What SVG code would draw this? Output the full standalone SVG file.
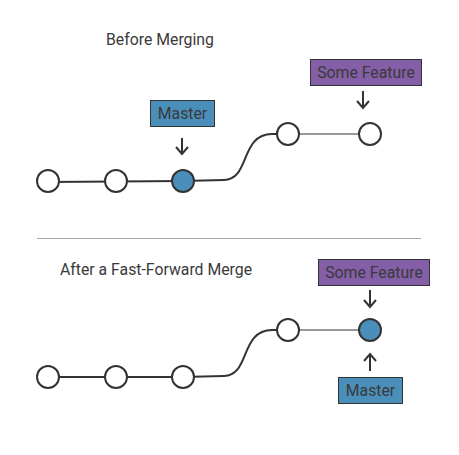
<svg xmlns="http://www.w3.org/2000/svg" width="459" height="455" viewBox="0 0 459 455">
<defs>
<style>
.title{font-family:Roboto,"Liberation Sans",sans-serif;font-size:15.8px;fill:#3a3a3a}
.lbl{font-family:Roboto,"Liberation Sans",sans-serif;font-size:15.8px;fill:#3a3a3a;text-anchor:middle}
.commit{fill:#fff;stroke:#333;stroke-width:2}
.head{fill:#4a8fba;stroke:#333;stroke-width:2}
.blue{fill:#4a8fba;stroke:#333;stroke-width:1}
.purple{fill:#845ea6;stroke:#333;stroke-width:1}
.edge{fill:none;stroke:#333;stroke-width:2}
.thin{fill:none;stroke:#333;stroke-width:1}
.arrow{fill:none;stroke:#333;stroke-width:2}
</style>
</defs>
<rect width="459" height="455" fill="#fff"/>
<text class="title" x="106" y="45">Before Merging</text>
<text class="title" x="60" y="275">After a Fast-Forward Merge</text>
<line x1="37" y1="238.5" x2="421" y2="238.5" stroke="#aaa" stroke-width="1"/>
<g id="connectors">
<path class="edge" d="M48,182 L183,181"/>
<path class="edge" d="M183,181 L224,180 C250,180 240,134 272,134 L288,134"/>
<path class="thin" d="M288,134 L370,134"/>
<path class="edge" d="M48,377 L183,377"/>
<path class="edge" d="M183,377 L224,376 C250,376 240,330 272,330 L288,330"/>
<path class="thin" d="M288,330 L370,330"/>
<path class="arrow" d="M182,138 V154 M176,147 L182,154 L188,147"/>
<path class="arrow" d="M363,91 V108 M357,101 L363,108 L369,101"/>
<path class="arrow" d="M370,290 V307 M364,300 L370,307 L376,300"/>
<path class="arrow" d="M370,371 V354 M364,361 L370,354 L376,361"/>
</g>
<g id="c1"><circle class="commit" cx="48" cy="181" r="11"/></g>
<g id="c2"><circle class="commit" cx="116" cy="181" r="11"/></g>
<g id="c3"><circle class="head" cx="183" cy="181" r="11"/></g>
<g id="c4"><circle class="commit" cx="288" cy="134" r="11"/></g>
<g id="c5"><circle class="commit" cx="370" cy="134" r="11"/></g>
<g id="master1"><rect class="blue" x="150.5" y="100.5" width="64" height="26"/><text class="lbl" x="182.5" y="119">Master</text></g>
<g id="feature1"><rect class="purple" x="310.5" y="59.5" width="111" height="26"/><text class="lbl" x="366" y="78">Some Feature</text></g>
<g id="d1"><circle class="commit" cx="48" cy="377" r="11"/></g>
<g id="d2"><circle class="commit" cx="116" cy="377" r="11"/></g>
<g id="d3"><circle class="commit" cx="183" cy="377" r="11"/></g>
<g id="d4"><circle class="commit" cx="288" cy="330" r="11"/></g>
<g id="d5"><circle class="head" cx="370" cy="330" r="11"/></g>
<g id="feature2"><rect class="purple" x="318.5" y="259.5" width="111" height="26"/><text class="lbl" x="374" y="278">Some Feature</text></g>
<g id="master2"><rect class="blue" x="338.5" y="377.5" width="64" height="26"/><text class="lbl" x="370.5" y="396">Master</text></g>
</svg>
